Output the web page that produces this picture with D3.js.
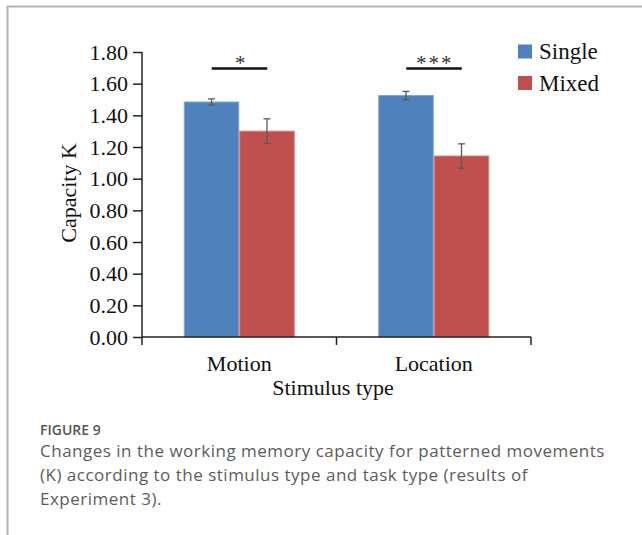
<!DOCTYPE html>
<html>
<head>
<meta charset="utf-8">
<script src="https://cdn.jsdelivr.net/npm/d3@7/dist/d3.min.js"></script>
<style>
  html, body { margin: 0; padding: 0; background: #fff; }
  svg { display: block; }
</style>
</head>
<body>
<svg id="chart" width="642" height="535"></svg>
<script>
// Stimulus types on the x axis, task types as the bar series
const categories = ["Motion", "Location"];
const seriesNames = ["Single", "Mixed"];
const seriesColors = ["#4F81BD", "#C0504D"];
const seriesEdges = ["#7FA3D1", "#D4807E"];
// mean capacity K per series, in category order
const singleMeans = [1.484, 1.525];
const mixedMeans = [1.30, 1.143];
// standard errors
const singleErrors = [0.02, 0.026];
const mixedErrors = [0.078, 0.077];
const yTicks = [0, 0.2, 0.4, 0.6, 0.8, 1.0, 1.2, 1.4, 1.6, 1.8];
const significance = ["*", "***"];
const yLabel = "Capacity K";
const xLabel = "Stimulus type";
const figureLabel = "FIGURE 9";
const captionLines = [
  "Changes in the working memory capacity for patterned movements",
  "(K) according to the stimulus type and task type (results of",
  "Experiment 3)."
];

const svg = d3.select("#chart");
const serif = "'Liberation Serif', 'Times New Roman', serif";
const sans = "'Open Sans', sans-serif";

// panel frame
svg.append("line").attr("x1", 7).attr("x2", 642).attr("y1", 6.5).attr("y2", 6.5)
  .attr("stroke", "#b3b3b3").attr("stroke-width", 2);
svg.append("line").attr("x1", 7.5).attr("x2", 7.5).attr("y1", 6).attr("y2", 535)
  .attr("stroke", "#b3b3b3").attr("stroke-width", 2);

const x0 = d3.scaleBand().domain(categories).range([142, 531])
  .paddingInner(0.4293).paddingOuter(0.4293 / 2);
const x1 = d3.scaleBand().domain(seriesNames).range([0, x0.bandwidth()]);
const y = d3.scaleLinear().domain([0, 1.8]).range([337, 52]);

const rows = categories.map((c, i) => ({
  cat: c,
  values: [
    { s: seriesNames[0], v: singleMeans[i], e: singleErrors[i], k: 0 },
    { s: seriesNames[1], v: mixedMeans[i], e: mixedErrors[i], k: 1 }
  ]
}));

// bars
const groups = svg.append("g").selectAll("g").data(rows).join("g")
  .attr("transform", d => `translate(${x0(d.cat)},0)`);
groups.selectAll("rect").data(d => d.values).join("rect")
  .attr("x", d => x1(d.s) + 0.5)
  .attr("width", x1.bandwidth() - 1)
  .attr("y", d => y(d.v))
  .attr("height", d => y(0) - y(d.v))
  .attr("fill", d => seriesColors[d.k])
  .attr("stroke", d => seriesEdges[d.k])
  .attr("stroke-width", 1);

// error bars
const eb = groups.selectAll("g.err").data(d => d.values).join("g").attr("class", "err")
  .attr("stroke", "#5a5a5a").attr("stroke-width", 1.3);
const cx = d => x1(d.s) + x1.bandwidth() / 2;
eb.append("line")
  .attr("x1", cx).attr("x2", cx)
  .attr("y1", d => y(d.v + d.e)).attr("y2", d => y(d.v - d.e));
eb.append("line")
  .attr("x1", d => cx(d) - 3.5).attr("x2", d => cx(d) + 3.5)
  .attr("y1", d => y(d.v + d.e)).attr("y2", d => y(d.v + d.e));
eb.append("line")
  .attr("x1", d => cx(d) - 3.5).attr("x2", d => cx(d) + 3.5)
  .attr("y1", d => y(d.v - d.e)).attr("y2", d => y(d.v - d.e));

// y axis
const yAxis = svg.append("g").attr("transform", "translate(142,0)")
  .call(d3.axisLeft(y).tickValues(yTicks).tickFormat(d3.format(".2f")).tickSize(9).tickPadding(5));
yAxis.select(".domain").attr("d", `M0,${y(1.8)}V${y(0)}`).attr("stroke", "#222").attr("stroke-width", 1.5);
yAxis.selectAll(".tick line").attr("stroke", "#222").attr("stroke-width", 1.5);
yAxis.selectAll(".tick text").attr("font-family", serif).attr("font-size", 22).attr("fill", "#111");

// x axis with dividers between categories
const step = x0.step();
const dividers = [x0.range()[0]].concat(categories.map((c, i) => x0.range()[0] + step * (i + 1)));
const xAxis = svg.append("g").attr("transform", `translate(0,${y(0)})`);
xAxis.append("line").attr("x1", x0.range()[0]).attr("x2", x0.range()[1])
  .attr("stroke", "#222").attr("stroke-width", 1.5);
xAxis.selectAll("line.div").data(dividers).join("line").attr("class", "div")
  .attr("x1", d => d).attr("x2", d => d).attr("y1", 0).attr("y2", 8)
  .attr("stroke", "#222").attr("stroke-width", 1.5);
xAxis.selectAll("text").data(categories).join("text")
  .attr("x", d => x0(d) + x0.bandwidth() / 2).attr("y", 34)
  .attr("text-anchor", "middle").attr("font-family", serif).attr("font-size", 22).attr("fill", "#111")
  .text(d => d);

// axis titles
svg.append("text").attr("x", 333).attr("y", 395).attr("text-anchor", "middle")
  .attr("font-family", serif).attr("font-size", 22).attr("fill", "#111").text(xLabel);
svg.append("text").attr("transform", `translate(76,193) rotate(-90)`).attr("text-anchor", "middle")
  .attr("font-family", serif).attr("font-size", 22).attr("fill", "#111").text(yLabel);

// significance brackets
const sig = svg.append("g").selectAll("g").data(categories).join("g");
sig.append("line")
  .attr("x1", d => x0(d) + x0.bandwidth() / 2 - 27.5).attr("x2", d => x0(d) + x0.bandwidth() / 2 + 28)
  .attr("y1", 68.5).attr("y2", 68.5).attr("stroke", "#111").attr("stroke-width", 2.5);
sig.append("text")
  .attr("x", d => x0(d) + x0.bandwidth() / 2 + 1).attr("y", 70)
  .attr("text-anchor", "middle").attr("font-family", serif).attr("font-size", 21)
  .attr("letter-spacing", (d, i) => i === 1 ? 2 : 0).attr("fill", "#333")
  .text((d, i) => significance[i]);

// legend
const legend = svg.append("g").selectAll("g").data(seriesNames).join("g")
  .attr("transform", (d, i) => `translate(518,${44.5 + i * 31.5})`);
legend.append("rect").attr("width", 14).attr("height", 14)
  .attr("fill", (d, i) => seriesColors[i]);
legend.append("text").attr("x", 21).attr("y", 14.5)
  .attr("font-family", serif).attr("font-size", 23).attr("fill", "#111").text(d => d);

// caption
svg.append("text").attr("x", 40).attr("y", 434.5)
  .attr("font-family", sans).attr("font-weight", 600)
  .attr("font-size", 14).attr("fill", "#555").text(figureLabel);
svg.append("g").selectAll("text").data(captionLines).join("text")
  .attr("x", 40).attr("y", (d, i) => 457 + i * 24)
  .attr("font-family", sans).attr("font-size", 17).attr("letter-spacing", 0.5)
  .attr("fill", "#5c5c5c").text(d => d);
</script>
</body>
</html>
